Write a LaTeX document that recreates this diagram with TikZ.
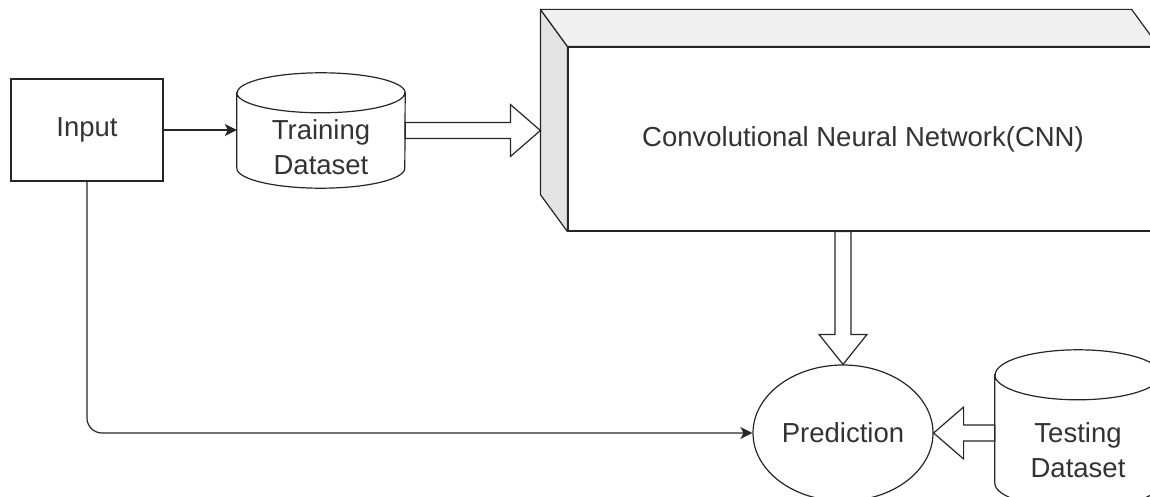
\documentclass[tikz,border=0pt]{standalone}
\usepackage{fontspec}
\setmainfont{Liberation Sans}
\usetikzlibrary{calc,shapes.geometric,arrows.meta}
\definecolor{ink}{HTML}{262626}
\definecolor{txt}{HTML}{333333}
\definecolor{sideface}{HTML}{E3E3E3}
\definecolor{topface}{HTML}{F0F0F0}
\tikzset{
  base/.style={draw=ink, line width=1.2pt},
  lbl/.style={text=txt, font=\fontsize{27.5}{35}\selectfont, align=center, inner sep=0},
  boxnode/.style={base, rectangle, minimum width=152pt, minimum height=102pt, inner sep=0, lbl},
  cylbody/.style={rectangle, inner sep=0},
  hollow/.style={base, fill=white, line join=miter},
  conn/.style={base, -{Stealth[length=12pt,width=12pt,inset=3pt]}},
}
\begin{document}
\begin{tikzpicture}[x=1pt,y=1pt]
\useasboundingbox (0,0) rectangle (1150,-497);
\clip (0,0) rectangle (1150,-497);

% Input
\node[boxnode] (input) at (87,-130) {Input};

% Training cylinder
\node[cylbody, minimum width=168pt, minimum height=115pt] (train) at (321,-130.5) {};
\draw[base, fill=white] let \p1=(train.north west), \p2=(train.south east) in
  (\x1,\y1-20) -- (\x1,\y2+20) arc[start angle=180,end angle=360,x radius=84,y radius=20]
  -- (\x2,\y1-20) arc[start angle=0,end angle=180,x radius=84,y radius=20] -- cycle
  (\x1,\y1-20) arc[start angle=180,end angle=360,x radius=84,y radius=20];
\node[lbl] (trainlbl) at ($(train.center)+(0,-17)$) {Training\\Dataset};

% CNN 3D box
\node[base, rectangle, minimum width=590pt, minimum height=184pt, inner sep=0, lbl, fill=white] (cnn) at (863,-139) {Convolutional Neural Network(CNN)};
\coordinate (cnnback) at ($(cnn.north west)+(-27,37)$);
\draw[base, fill=sideface, line join=round] (cnnback) -- (cnn.north west) -- (cnn.south west) -- ($(cnn.south west)+(-27,37)$) -- cycle;
\draw[base, fill=topface, line join=round] (cnnback) -- ($(cnn.north east)+(-27,37)$) -- (cnn.north east) -- (cnn.north west) -- cycle;

% Prediction
\node[base, ellipse, minimum width=180pt, minimum height=136pt, inner sep=0, lbl] (pred) at (843,-433) {Prediction};

% Testing cylinder
\node[cylbody, minimum width=166pt, minimum height=158pt] (test) at (1078,-429) {};
\draw[base, fill=white] let \p1=(test.north west), \p2=(test.south east) in
  (\x1,\y1-25) -- (\x1,\y2+25) arc[start angle=180,end angle=360,x radius=83,y radius=25]
  -- (\x2,\y1-25) arc[start angle=0,end angle=180,x radius=83,y radius=25] -- cycle
  (\x1,\y1-25) arc[start angle=180,end angle=360,x radius=83,y radius=25];
\node[lbl] (testlbl) at ($(test.center)+(0,-21)$) {Testing\\Dataset};

% connectors
\draw[conn] (input.east) -- (input.east -| train.west);
\draw[conn, rounded corners=15pt] (input.south) |- (pred.west);

% hollow arrows
\draw[hollow] let \p1=(train.east), \p2=(train.east -| cnnback) in
  (\x1,\y1+8) -- (\x2-30,\y1+8) -- (\x2-30,\y1+26) -- (\x2,\y1) -- (\x2-30,\y1-26) -- (\x2-30,\y1-8) -- (\x1,\y1-8) -- cycle;
\draw[hollow] let \p1=(pred.north |- cnn.south), \p2=(pred.north) in
  (\x1-8,\y1) -- (\x1-8,\y2+30) -- (\x1-24,\y2+30) -- (\x2,\y2) -- (\x1+24,\y2+30) -- (\x1+8,\y2+30) -- (\x1+8,\y1) -- cycle;
\draw[hollow] let \p1=(test.west |- pred.east), \p2=(pred.east) in
  (\x1,\y1+8) -- (\x2+30,\y1+8) -- (\x2+30,\y1+26) -- (\x2,\y2) -- (\x2+30,\y1-26) -- (\x2+30,\y1-8) -- (\x1,\y1-8) -- cycle;
\end{tikzpicture}
\end{document}
